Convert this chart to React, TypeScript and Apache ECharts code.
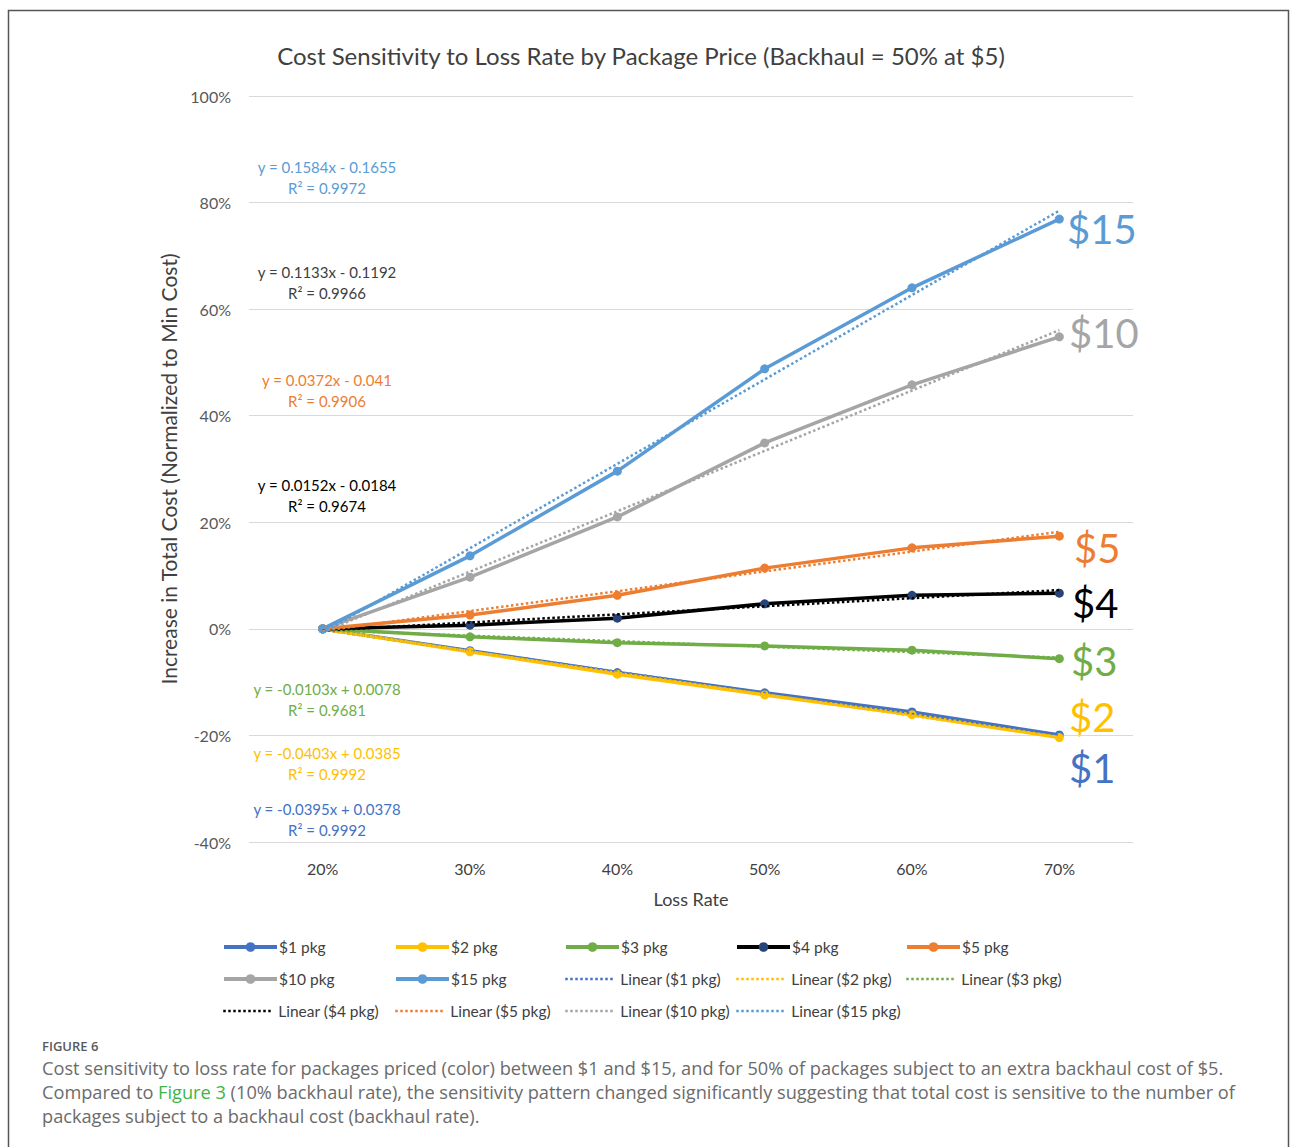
import React, { useEffect, useRef } from "react";
import * as echarts from "echarts";

// Loss-rate categories on the x axis
const lossRates = ["20%", "30%", "40%", "50%", "60%", "70%"];

// Increase in total cost (fraction of minimum cost) per package price
const pkg1 = [0, -0.041, -0.082, -0.12, -0.156, -0.199];
const pkg2 = [0, -0.043, -0.085, -0.124, -0.161, -0.204];
const pkg3 = [0, -0.015, -0.026, -0.032, -0.04, -0.056];
const pkg4 = [0, 0.007, 0.02, 0.047, 0.063, 0.067];
const pkg5 = [0, 0.026, 0.063, 0.114, 0.152, 0.174];
const pkg10 = [0, 0.097, 0.21, 0.349, 0.458, 0.548];
const pkg15 = [0, 0.137, 0.296, 0.488, 0.64, 0.769];

// Linear trend coefficients (x = category index 1..6)
const trendSlopes = [-0.0395, -0.0403, -0.0103, 0.0152, 0.0372, 0.1133, 0.1584];
const trendIntercepts = [0.0378, 0.0385, 0.0078, -0.0184, -0.041, -0.1192, -0.1655];
const trendR2 = ["0.9992", "0.9992", "0.9681", "0.9674", "0.9906", "0.9966", "0.9972"];

const seriesNames = ["$1 pkg", "$2 pkg", "$3 pkg", "$4 pkg", "$5 pkg", "$10 pkg", "$15 pkg"];
const priceTags = ["$1", "$2", "$3", "$4", "$5", "$10", "$15"];
const seriesData = [pkg1, pkg2, pkg3, pkg4, pkg5, pkg10, pkg15];

const lineColors = ["#4472C4", "#FFC000", "#70AD47", "#000000", "#ED7D31", "#A5A5A5", "#5B9BD5"];
const markerColors = ["#4472C4", "#FFC000", "#70AD47", "#264478", "#ED7D31", "#A5A5A5", "#5B9BD5"];
const equationColors = ["#4472C4", "#FFC000", "#70AD47", "#000000", "#ED7D31", "#404040", "#5B9BD5"];

const FONT = "Lato, 'Open Sans', sans-serif";
const CAPTION_FONT = "'Open Sans', Lato, sans-serif";

const fmtCoef = (v: number, first: boolean) => {
  const s = Math.abs(v).toString();
  if (first) return (v < 0 ? "-" : "") + s;
  return (v < 0 ? " - " : " + ") + s;
};

export default function App() {
  const ref = useRef<HTMLDivElement>(null);

  useEffect(() => {
    if (!ref.current) return;
    const chart = echarts.init(ref.current, undefined, { renderer: "svg" });

    const mainSeries = seriesNames.map((name, i) => ({
      name,
      type: "line",
      data: seriesData[i],
      symbol: "circle",
      symbolSize: 9,
      showSymbol: true,
      lineStyle: { color: lineColors[i], width: 3.5 },
      itemStyle: { color: markerColors[i], borderWidth: 0 },
      z: 3,
    }));

    const trendSeries = seriesNames.map((name, i) => ({
      name: `Linear (${name})`,
      type: "line",
      data: lossRates.map((_, k) => trendSlopes[i] * (k + 1) + trendIntercepts[i]),
      symbol: "none",
      lineStyle: { color: lineColors[i], width: 2.5, type: "dotted" },
      itemStyle: { color: lineColors[i] },
      z: 4,
    }));

    // Legend grid: 5 columns x 3 rows, filled row by row
    const legendOrder = [...seriesNames, ...seriesNames.map((n) => `Linear (${n})`)];
    const colX = [222, 394, 564, 735, 905];
    const rowY = [948, 980, 1012];
    const legends = legendOrder.map((name, idx) => {
      const isTrend = idx >= seriesNames.length;
      return {
        data: [name],
        left: colX[idx % 5],
        top: rowY[Math.floor(idx / 5)] - 9,
        itemWidth: isTrend ? 50 : 53,
        itemHeight: 12,
        itemGap: 0,
        padding: 0,
        selectedMode: false,
        itemStyle: isTrend ? { opacity: 0 } : {},
        lineStyle: isTrend ? { width: 2.5 } : { width: 4 },
        textStyle: {
          fontFamily: FONT,
          fontSize: 15.5,
          color: "#404040",
          padding: [0, 0, 0, isTrend ? 0 : -3],
        },
      };
    });

    // Trendline equations on the left of the plot
    const eqY = [809, 753, 689, 485, 380, 272, 167];
    const equationTexts: any[] = [];
    seriesNames.forEach((_, i) => {
      equationTexts.push({
        type: "text",
        x: 327,
        y: eqY[i],
        style: {
          text: `y = ${fmtCoef(trendSlopes[i], true)}x${fmtCoef(trendIntercepts[i], false)}`,
          fill: equationColors[i],
          font: `15px ${FONT}`,
          textAlign: "center",
          textVerticalAlign: "middle",
        },
      });
      equationTexts.push({
        type: "text",
        x: 327,
        y: eqY[i] + 21,
        style: {
          text: `R² = ${trendR2[i]}`,
          fill: equationColors[i],
          font: `15px ${FONT}`,
          textAlign: "center",
          textVerticalAlign: "middle",
        },
      });
    });

    // Large price tags beside the line ends
    const tagPos = [
      [1069, 768],
      [1069, 717],
      [1071, 661],
      [1072, 603],
      [1074, 548],
      [1069, 333],
      [1067, 229],
    ];
    const tagTexts = priceTags.map((t, i) => ({
      type: "text",
      x: tagPos[i][0],
      y: tagPos[i][1],
      style: {
        text: t,
        fill: lineColors[i],
        font: `40px ${FONT}`,
        textAlign: "left",
        textVerticalAlign: "middle",
      },
    }));

    const captionFont = `18.2px ${CAPTION_FONT}`;
    const captionColor = "#6b6b6b";

    chart.setOption({
      animation: false,
      backgroundColor: "#ffffff",
      title: {
        text: "Cost Sensitivity to Loss Rate by Package Price (Backhaul = 50% at $5)",
        left: 636,
        top: 38,
        textAlign: "center",
        textStyle: { fontFamily: FONT, fontSize: 24, fontWeight: "normal", color: "#404040" },
      },
      legend: legends,
      grid: { left: 249, right: 160, top: 96, bottom: 305, containLabel: false },
      xAxis: {
        type: "category",
        data: lossRates,
        boundaryGap: true,
        axisLine: { show: false },
        axisTick: { show: false },
        axisLabel: { fontFamily: FONT, fontSize: 16, color: "#404040", margin: 18 },
        name: "Loss Rate",
        nameLocation: "middle",
        nameGap: 48,
        nameTextStyle: { fontFamily: FONT, fontSize: 18, color: "#404040" },
      },
      yAxis: {
        type: "value",
        min: -0.4,
        max: 1.0,
        interval: 0.2,
        axisLine: { show: false },
        axisTick: { show: false },
        splitLine: { lineStyle: { color: "#d9d9d9", width: 1 } },
        axisLabel: {
          fontFamily: FONT,
          fontSize: 16,
          color: "#595959",
          margin: 18,
          formatter: (v: number) => `${Math.round(v * 100)}%`,
        },
        name: "Increase in Total Cost (Normalized to Min Cost)",
        nameLocation: "middle",
        nameGap: 70,
        nameRotate: 90,
        nameTextStyle: { fontFamily: FONT, fontSize: 21, color: "#404040" },
      },
      series: [...mainSeries, ...trendSeries],
      graphic: [
        {
          type: "rect",
          shape: { x: 8.5, y: 10.5, width: 1280, height: 1200 },
          style: { fill: "none", stroke: "#555555", lineWidth: 1.5 },
          silent: true,
          z: -10,
        },
        ...equationTexts,
        ...tagTexts,
        {
          type: "text",
          x: 42,
          y: 1046,
          style: {
            text: "FIGURE 6",
            fill: "#5a5a5a",
            font: `600 13px ${CAPTION_FONT}`,
            textVerticalAlign: "middle",
          },
        },
        {
          type: "text",
          x: 42,
          y: 1068,
          style: {
            text: "Cost sensitivity to loss rate for packages priced (color) between $1 and $15, and for 50% of packages subject to an extra backhaul cost of $5.",
            fill: captionColor,
            font: captionFont,
            textVerticalAlign: "middle",
          },
        },
        {
          type: "text",
          x: 42,
          y: 1092,
          style: {
            text: "Compared to {link|Figure 3} (10% backhaul rate), the sensitivity pattern changed significantly suggesting that total cost is sensitive to the number of",
            fill: captionColor,
            font: captionFont,
            textVerticalAlign: "middle",
            rich: {
              link: { fill: "#3DB54A", font: captionFont },
            },
          },
        },
        {
          type: "text",
          x: 42,
          y: 1116,
          style: {
            text: "packages subject to a backhaul cost (backhaul rate).",
            fill: captionColor,
            font: captionFont,
            textVerticalAlign: "middle",
          },
        },
      ],
    });

    return () => chart.dispose();
  }, []);

  return (
    <div
      ref={ref}
      style={{ position: "absolute", left: 0, top: 0, width: 1293, height: 1147, background: "#fff" }}
    />
  );
}
